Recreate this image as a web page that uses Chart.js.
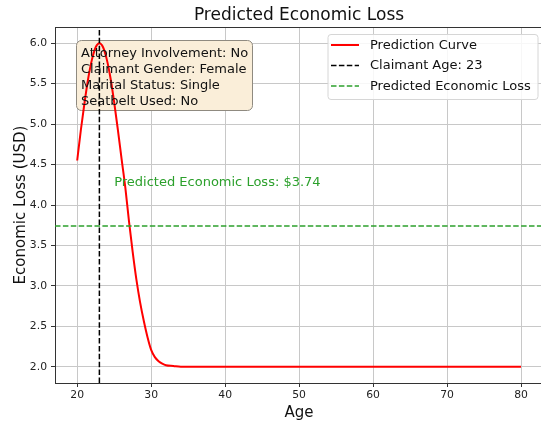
<!DOCTYPE html>
<html>
<head>
<meta charset="utf-8">
<script src="https://cdn.jsdelivr.net/npm/chart.js@4.4.0/dist/chart.umd.min.js"></script>
<style>
    html, body { margin: 0; padding: 0; background: #ffffff; }
    #wrap { width: 541px; height: 424px; }
</style>
</head>
<body>
<div id="wrap"><canvas id="grafico" width="541" height="424"></canvas></div>
<script>
// dados
const idades = [20, 20.5, 21, 21.5, 22, 22.5, 23, 23.5, 24, 24.5, 25, 25.5, 26, 26.5, 27, 27.5,
    28, 28.5, 29, 29.5, 30, 30.5, 31, 31.5, 32, 33, 34, 35, 40, 50, 60, 70, 80];
const perdas = [4.55, 4.93, 5.27, 5.57, 5.80, 5.95, 6.00, 5.95, 5.80, 5.57, 5.27, 4.93, 4.57, 4.22, 3.80, 3.42,
    3.08, 2.80, 2.57, 2.37, 2.21, 2.12, 2.07, 2.04, 2.02, 2.01, 2.00, 2.00, 2.00, 2.00, 2.00, 2.00, 2.00];
const idadeReclamante = 23;
const perdaPrevista = 3.74;
const ticksX = [20, 30, 40, 50, 60, 70, 80];
const ticksY = [2.0, 2.5, 3.0, 3.5, 4.0, 4.5, 5.0, 5.5, 6.0];
const limitesX = [17, 82.7];
const limitesY = [1.8, 6.2];
const linhasInfo = ['Attorney Involvement: No', 'Claimant Gender: Female', 'Marital Status: Single', 'Seatbelt Used: No'];
const legendas = ['Prediction Curve', 'Claimant Age: 23', 'Predicted Economic Loss'];
const titulo = 'Predicted Economic Loss';

const FONTE = '"DejaVu Sans", sans-serif';
const VERMELHO = '#ff0000';
const PRETO = '#000000';
const VERDE = '#2ca02c';
const TRACO = [5.5, 2.4];

// textos, caixa de info, legenda e borda de cima
const extras = {
    id: 'extras',
    beforeDatasetsDraw(chart) {
        const c = chart.ctx;
        c.save();
        // caixa de informacoes (wheat, alpha 0.5)
        c.beginPath();
        c.roundRect(76.5, 40.5, 176, 70, 5);
        c.fillStyle = '#faeed9';
        c.fill();
        c.strokeStyle = '#8f8a80';
        c.lineWidth = 1;
        c.stroke();
        c.restore();
    },
    afterDatasetsDraw(chart) {
        const c = chart.ctx;
        const area = chart.chartArea;
        const sx = chart.scales.x, sy = chart.scales.y;
        c.save();

        // borda de cima
        c.strokeStyle = '#333333';
        c.lineWidth = 1;
        c.beginPath();
        c.moveTo(area.left, area.top + 0.5);
        c.lineTo(area.right, area.top + 0.5);
        c.stroke();

        // texto da caixa
        c.fillStyle = '#111111';
        c.font = '13px ' + FONTE;
        c.textAlign = 'left';
        c.textBaseline = 'alphabetic';
        linhasInfo.forEach((t, i) => c.fillText(t, 81, 57 + i * 16));

        // texto verde
        c.fillStyle = VERDE;
        c.fillText('Predicted Economic Loss: $' + perdaPrevista.toFixed(2), sx.getPixelForValue(25), sy.getPixelForValue(perdaPrevista + 0.5));

        // legenda
        c.beginPath();
        c.roundRect(328, 34.5, 210, 65, 3);
        c.fillStyle = 'rgba(255,255,255,0.85)';
        c.fill();
        c.strokeStyle = '#d6d6d6';
        c.stroke();
        const cores = [VERMELHO, PRETO, VERDE];
        legendas.forEach((t, i) => {
            const y = 45 + i * 20.5;
            c.strokeStyle = cores[i];
            c.lineWidth = i == 0 ? 2 : 1.5;
            c.setLineDash(i == 0 ? [] : TRACO);
            c.beginPath();
            c.moveTo(331, y);
            c.lineTo(359, y);
            c.stroke();
            c.setLineDash([]);
            c.fillStyle = '#111111';
            c.textBaseline = 'middle';
            c.fillText(t, 370, y + 0.5);
        });
        c.restore();
    },
    afterDraw(chart) {
        const c = chart.ctx;
        c.save();
        c.fillStyle = '#111111';
        c.textAlign = 'center';
        c.textBaseline = 'alphabetic';
        // titulo
        c.font = '17px ' + FONTE;
        c.fillText(titulo, 299, 20);
        // eixo x
        c.font = '15px ' + FONTE;
        c.fillText('Age', 299, 417);
        // eixo y
        c.translate(25, 205);
        c.rotate(-Math.PI / 2);
        c.fillText('Economic Loss (USD)', 0, 0);
        c.restore();
    }
};

new Chart(document.getElementById('grafico'), {
    type: 'line',
    data: {
        datasets: [
            {
                label: legendas[0],
                data: idades.map((a, i) => ({ x: a, y: perdas[i] })),
                borderColor: VERMELHO,
                borderWidth: 2,
                pointRadius: 0,
                cubicInterpolationMode: 'monotone',
                order: 3
            },
            {
                label: legendas[1],
                data: [{ x: idadeReclamante, y: limitesY[0] }, { x: idadeReclamante, y: limitesY[1] }],
                borderColor: PRETO,
                borderWidth: 1.5,
                borderDash: TRACO,
                pointRadius: 0,
                order: 2
            },
            {
                label: legendas[2],
                data: [{ x: limitesX[0], y: perdaPrevista }, { x: limitesX[1], y: perdaPrevista }],
                borderColor: VERDE,
                borderWidth: 1.5,
                borderDash: TRACO,
                pointRadius: 0,
                order: 1
            }
        ]
    },
    options: {
        responsive: false,
        animation: false,
        devicePixelRatio: 1,
        layout: { padding: { top: 27, right: 0, left: 0, bottom: 0 } },
        plugins: {
            legend: { display: false },
            title: { display: false },
            tooltip: { enabled: false }
        },
        scales: {
            x: {
                type: 'linear',
                min: limitesX[0],
                max: limitesX[1],
                afterBuildTicks: (s) => { s.ticks = ticksX.map(v => ({ value: v })); },
                afterFit: (s) => { s.height = 41; },
                grid: { color: '#c8c8c8', lineWidth: 1, tickColor: '#333333', tickLength: 4 },
                border: { display: true, color: '#333333', width: 1 },
                ticks: {
                    color: '#222222',
                    font: { family: FONTE, size: 10.8 },
                    padding: 2,
                    maxRotation: 0,
                    callback: (v) => v.toString()
                }
            },
            y: {
                type: 'linear',
                min: limitesY[0],
                max: limitesY[1],
                afterBuildTicks: (s) => { s.ticks = ticksY.map(v => ({ value: v })); },
                afterFit: (s) => { s.width = 55; },
                grid: { color: '#c8c8c8', lineWidth: 1, tickColor: '#333333', tickLength: 4 },
                border: { display: true, color: '#333333', width: 1 },
                ticks: {
                    color: '#222222',
                    font: { family: FONTE, size: 10.8 },
                    padding: 4,
                    callback: (v) => v.toFixed(1)
                }
            }
        }
    },
    plugins: [extras]
});
</script>
</body>
</html>
